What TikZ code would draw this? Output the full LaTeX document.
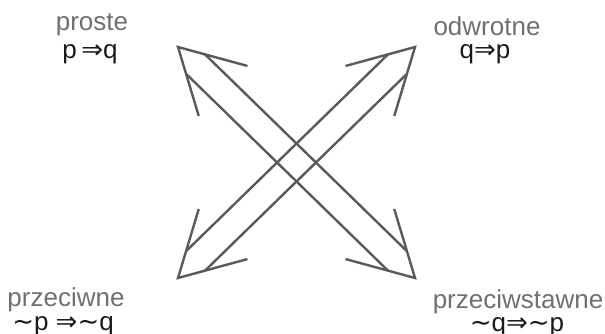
\documentclass[tikz,border=0pt]{standalone}
\usepackage{fontspec}
\setmainfont{Liberation Sans}
\newfontfamily\symfont{DejaVu Sans}
\usepackage{tikz}
\usetikzlibrary{positioning,calc}

\definecolor{linegray}{HTML}{5A5A5A}
\definecolor{wordgray}{HTML}{707070}
\definecolor{formblack}{HTML}{1A1A1A}

\newcommand{\impl}{{\symfont ⇒}}
\newcommand{\tld}{{\symfont ∼}}

\begin{document}
\begin{tikzpicture}[
  x=0.75pt, y=-0.75pt,
  every node/.style={font=\fontsize{19.5}{21}\selectfont, inner sep=0pt, anchor=base},
  lbl/.style ={text=wordgray},
  frm/.style ={text=formblack},
  dbl/.style ={draw=linegray, line width=1.8pt}
]
\useasboundingbox (0,0) rectangle (605,333);

%% --- Corner labels -------------------------------------------
\node[lbl] (proste)        at (92,30)   {proste};
\node[frm] (f_proste)      at (90,58)   {p\,\impl q};
\node[lbl] (odwrotne)      at (487,35)  {odwrotne};
\node[frm] (f_odwrotne)    at (485,58)  {q\impl p};
\node[lbl] (przeciwne)     at (66,306)  {przeciwne};
\node[frm] (f_przeciwne)   at (63,330)  {\tld p \impl\tld q};
\node[lbl] (przeciwstawne) at (518,308) {przeciwstawne};
\node[frm] (f_przeciw)     at (517,331) {\tld q\impl\tld p};

%% --- Arrow tips ----------------------------------------------
\coordinate (tl) at (178,47);
\coordinate (tr) at (415,47);
\coordinate (bl) at (178,278);
\coordinate (br) at (415,278);

%% --- proste <-> przeciwstawne --------------------------------
\draw[dbl] ($(tl)!54pt!29:(br)$) -- (tl) -- ($(tl)!54pt!-29:(br)$);
\draw[dbl] ($(br)!54pt!29:(tl)$) -- (br) -- ($(br)!54pt!-29:(tl)$);
\draw[dbl] ($(tl)!21pt!29:(br)$) -- ($(br)!21pt!-29:(tl)$);
\draw[dbl] ($(tl)!21pt!-29:(br)$) -- ($(br)!21pt!29:(tl)$);

%% --- odwrotne <-> przeciwne ----------------------------------
\draw[dbl] ($(tr)!54pt!29:(bl)$) -- (tr) -- ($(tr)!54pt!-29:(bl)$);
\draw[dbl] ($(bl)!54pt!29:(tr)$) -- (bl) -- ($(bl)!54pt!-29:(tr)$);
\draw[dbl] ($(tr)!21pt!29:(bl)$) -- ($(bl)!21pt!-29:(tr)$);
\draw[dbl] ($(tr)!21pt!-29:(bl)$) -- ($(bl)!21pt!29:(tr)$);

\end{tikzpicture}
\end{document}
